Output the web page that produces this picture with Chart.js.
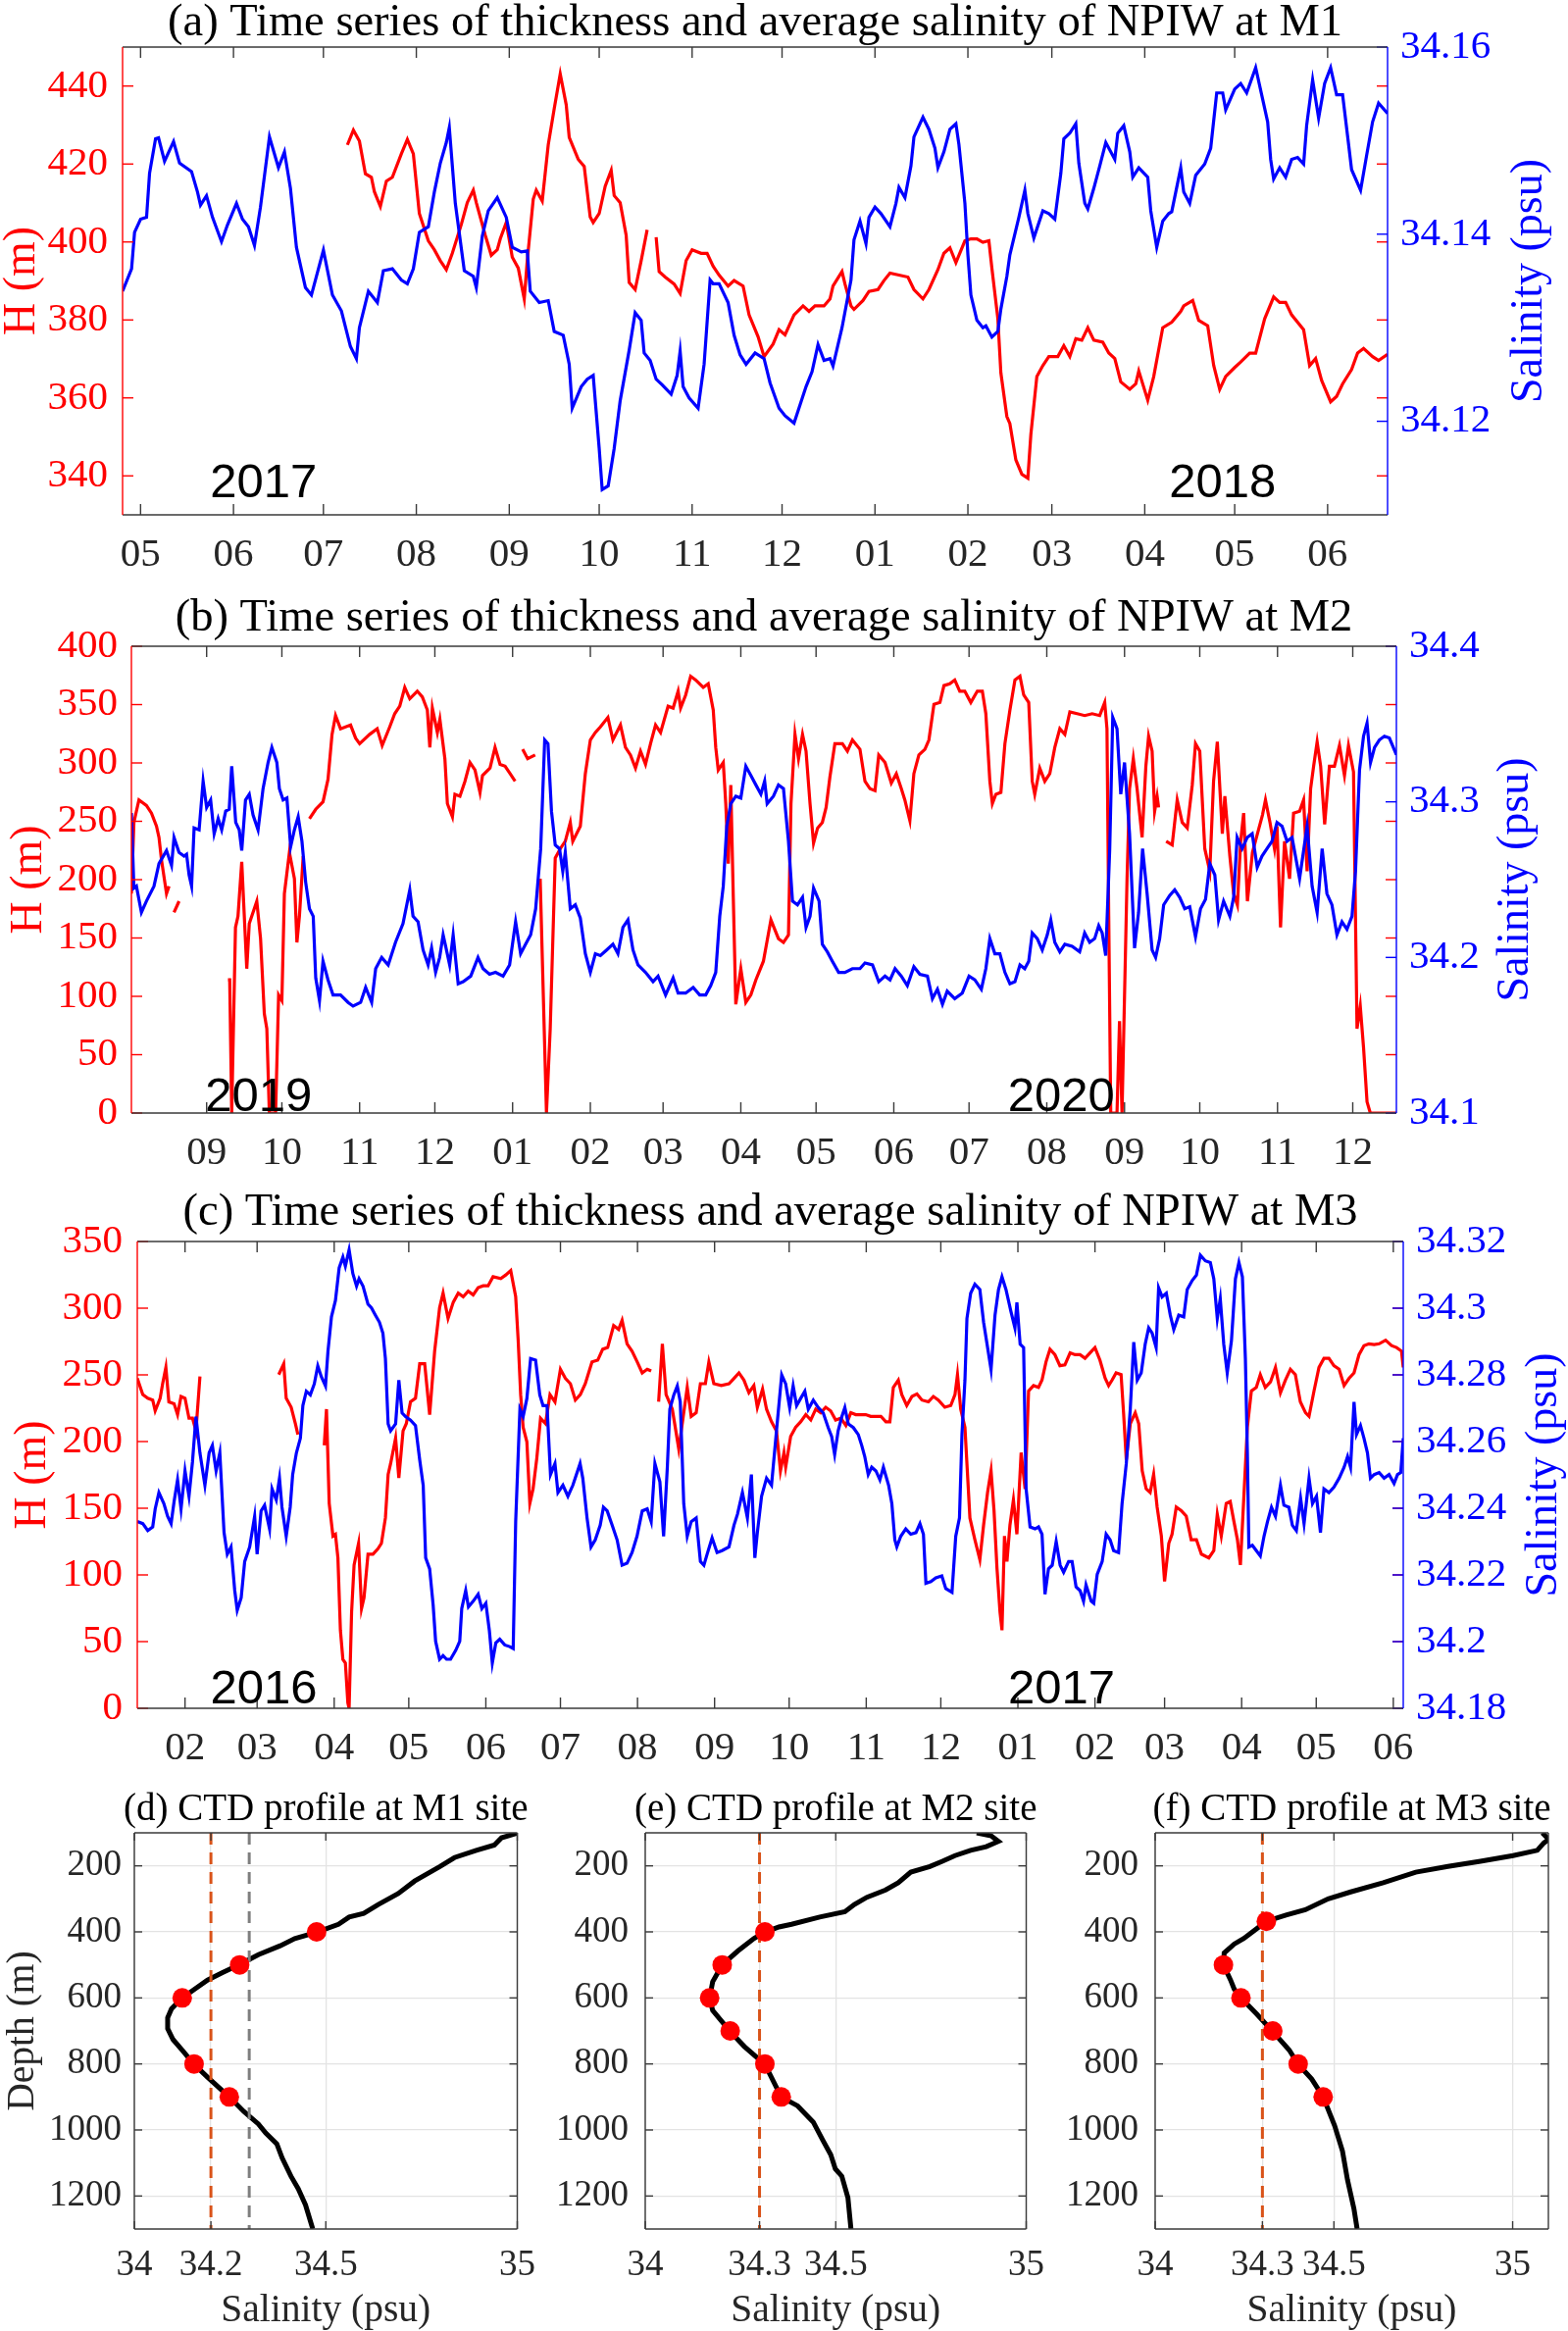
<!DOCTYPE html>
<html>
<head>
<meta charset="utf-8">
<script src="https://cdn.jsdelivr.net/npm/chart.js@4.4.1/dist/chart.umd.min.js"></script>
<style>
  html, body { margin: 0; padding: 0; background: #fff; }
  #wrap { position: relative; width: 1599px; height: 2377px; overflow: hidden; }
  canvas { position: absolute; }
</style>
</head>
<body>
<div id="wrap">
  <canvas id="cA" width="1599" height="590" style="left:0;top:0"></canvas>
  <canvas id="cB" width="1599" height="610" style="left:0;top:590px"></canvas>
  <canvas id="cC" width="1599" height="600" style="left:0;top:1200px"></canvas>
  <canvas id="cD" width="561" height="577" style="left:0;top:1800px"></canvas>
  <canvas id="cE" width="535" height="577" style="left:545px;top:1800px"></canvas>
  <canvas id="cF" width="534" height="577" style="left:1065px;top:1800px"></canvas>
</div>
<script>
const SERIF = "'Liberation Serif', 'Times New Roman', serif";
const SANS = "'Liberation Sans', Arial, sans-serif";
const RED = '#ff0000', BLUE = '#0000ff', AXIS = '#262626';

// ---------- (a) M1, day 0 = 2017-05-01 ----------
const monthDaysA = [0, 31, 61, 92, 123, 153, 184, 214, 245, 276, 304, 335, 365, 396];
const monthLabelsA = ['05','06','07','08','09','10','11','12','01','02','03','04','05','06'];
const hTicksA = [340, 360, 380, 400, 420, 440];
const salTicksA = [34.12, 34.14, 34.16];
const yearsA = ['2017', '2018'];
const yearDaysA = [41, 361];
// [day, salinity]
const salA = [[-6,34.1339],[-3,34.1363],[-2,34.1402],[0,34.1416],[2,34.1418],[3,34.1465],[5,34.1502],[6,34.1503],[8,34.1478],[11,34.1499],[13,34.1476],[17,34.1467],[19,34.1445],[20,34.1431],[22,34.1441],[24,34.1418],[27,34.1392],[29,34.1410],[32,34.1433],[34,34.1416],[36,34.1408],[38,34.1388],[40,34.1429],[43,34.1504],[46,34.1471],[48,34.1488],[50,34.1449],[52,34.1386],[55,34.1343],[57,34.1335],[61,34.1383],[64,34.1335],[67,34.1318],[70,34.1280],[72,34.1267],[73,34.1300],[76,34.1339],[79,34.1327],[81,34.1361],[84,34.1363],[87,34.1351],[89,34.1347],[91,34.1363],[93,34.1402],[96,34.1408],[98,34.1445],[100,34.1476],[102,34.1498],[103,34.1514],[105,34.1433],[108,34.1361],[111,34.1355],[112,34.1343],[114,34.1398],[116,34.1425],[119,34.1439],[122,34.1418],[124,34.1386],[127,34.1381],[129,34.1382],[130,34.1339],[133,34.1327],[136,34.1329],[138,34.1296],[141,34.1292],[143,34.1261],[144,34.1214],[147,34.1237],[149,34.1245],[151,34.1249],[153,34.1171],[154,34.1127],[156,34.1131],[158,34.1171],[160,34.1222],[163,34.1276],[165,34.1316],[167,34.1308],[168,34.1273],[170,34.1265],[172,34.1245],[174,34.1239],[177,34.1229],[179,34.1249],[180,34.1275],[181,34.1237],[183,34.1225],[186,34.1214],[188,34.1261],[190,34.1351],[191,34.1347],[193,34.1347],[196,34.1327],[198,34.1292],[200,34.1271],[202,34.1261],[205,34.1273],[208,34.1267],[210,34.1241],[213,34.1214],[215,34.1206],[218,34.1198],[222,34.1237],[224,34.1253],[226,34.1282],[228,34.1265],[230,34.1267],[231,34.1259],[234,34.1300],[237,34.1351],[238,34.1394],[240,34.1414],[242,34.1390],[243,34.1418],[245,34.1429],[247,34.1422],[250,34.1408],[252,34.1433],[253,34.1450],[255,34.1439],[257,34.1473],[258,34.1504],[261,34.1525],[263,34.1512],[265,34.1492],[266,34.1471],[268,34.1488],[270,34.1512],[272,34.1518],[273,34.1496],[275,34.1433],[276,34.1378],[277,34.1335],[279,34.1308],[281,34.1300],[282,34.1302],[284,34.1290],[286,34.1296],[287,34.1320],[289,34.1355],[290,34.1378],[293,34.1418],[295,34.1447],[296,34.1422],[298,34.1396],[301,34.1425],[303,34.1422],[305,34.1416],[307,34.1465],[308,34.1502],[310,34.1508],[312,34.1518],[313,34.1476],[315,34.1433],[316,34.1427],[318,34.1449],[320,34.1473],[322,34.1498],[325,34.1480],[326,34.1508],[328,34.1516],[330,34.1488],[331,34.1461],[333,34.1471],[336,34.1461],[337,34.1425],[339,34.1386],[341,34.1414],[343,34.1422],[344,34.1424],[347,34.1471],[348,34.1445],[350,34.1433],[352,34.1463],[355,34.1475],[357,34.1492],[359,34.1551],[361,34.1551],[362,34.1533],[365,34.1555],[367,34.1561],[369,34.1551],[372,34.1578],[374,34.1549],[376,34.1520],[377,34.1480],[378,34.1459],[380,34.1471],[382,34.1461],[384,34.1480],[386,34.1482],[388,34.1475],[389,34.1516],[391,34.1565],[393,34.1524],[395,34.1561],[397,34.1578],[399,34.1549],[401,34.1549],[403,34.1496],[404,34.1469],[407,34.1447],[409,34.1484],[411,34.1520],[413,34.1540],[416,34.1529]];
// [day, thickness m]
const hA = [[69,424.9],[71,428.7],[73,425.9],[75,417.5],[77,416.6],[78,412.9],[80,409.1],[82,415.6],[84,416.6],[87,422.6],[89,426.3],[91,422.6],[93,407.3],[96,400.3],[98,398.0],[100,395.2],[102,392.9],[104,397.1],[107,404.5],[109,410.1],[111,413.3],[112,410.1],[115,401.7],[117,396.6],[119,398.0],[120,400.8],[122,405.0],[124,396.1],[126,393.3],[128,385.4],[129,395.2],[131,411.0],[132,413.3],[134,410.5],[136,424.9],[138,434.2],[140,443.1],[142,435.2],[143,426.8],[146,421.2],[148,419.4],[150,406.4],[151,405.0],[153,407.3],[155,414.3],[157,418.4],[158,411.9],[160,410.1],[162,401.7],[163,389.6],[165,387.8],[167,395.2],[169,403.1],[170.5,null],[172,401.2],[173,392.4],[175,391.0],[178,389.2],[180,386.8],[182,395.2],[184,398.0],[187,397.1],[189,397.1],[191,393.8],[193,391.5],[196,388.7],[198,390.1],[201,388.7],[203,381.3],[206,375.7],[208,370.6],[211,373.8],[213,377.5],[215,376.2],[218,381.3],[221,383.6],[223,382.2],[225,383.6],[228,383.6],[230,385.4],[231,388.7],[234,392.4],[235,389.2],[237,383.6],[238,382.7],[241,385.0],[243,387.3],[246,387.8],[248,390.1],[250,392.0],[253,391.5],[256,391.0],[258,387.8],[261,385.4],[263,387.8],[266,392.9],[268,397.1],[270,398.5],[272,394.7],[275,400.3],[277,400.8],[279,400.8],[281,399.9],[283,400.3],[284,393.3],[286,380.3],[287,366.4],[289,355.2],[290,353.4],[292,344.1],[294,340.4],[296,339.4],[297,350.6],[299,365.5],[301,368.3],[303,370.6],[306,370.6],[308,373.4],[310,370.6],[312,375.2],[314,374.8],[316,378.0],[318,374.8],[321,374.3],[323,371.5],[325,370.1],[327,364.1],[330,362.2],[332,363.6],[333,366.9],[336,359.4],[338,365.5],[341,378.0],[344,379.4],[347,382.2],[348,383.6],[351,385.0],[353,379.9],[356,378.5],[358,368.3],[360,362.2],[362,365.5],[365,367.8],[367,369.2],[370,371.5],[372,371.5],[375,380.3],[378,385.9],[380,384.5],[382,384.5],[384,381.3],[388,377.5],[390,368.3],[392,370.1],[394,364.5],[397,359.0],[399,360.4],[401,363.6],[404,367.3],[406,371.5],[408,372.7],[411,370.6],[413,369.6],[416,371.2]];

// ---------- (b) M2, day 0 = 2019-09-01 ----------
const monthDaysB = [0, 30, 61, 91, 122, 153, 182, 213, 243, 274, 304, 335, 366, 396, 427, 457];
const monthLabelsB = ['09','10','11','12','01','02','03','04','05','06','07','08','09','10','11','12'];
const hTicksB = [0, 50, 100, 150, 200, 250, 300, 350, 400];
const salTicksB = [34.1, 34.2, 34.3, 34.4];
const yearsB = ['2019', '2020'];
const yearDaysB = [20.7, 340.8];
const salB = [[-30,34.2928],[-29,34.2446],[-28,34.2458],[-26,34.2289],[-24,34.2362],[-21,34.2458],[-19,34.2603],[-16,34.2687],[-14,34.2591],[-13,34.2771],[-11,34.2675],[-9,34.2651],[-8,34.2663],[-7,34.2530],[-6,34.2458],[-5,34.2832],[-3,34.2820],[-1.4,34.3133],[0,34.2964],[1.6,34.3012],[3,34.2795],[4.6,34.2892],[6,34.2820],[7.6,34.2940],[9,34.2952],[10,34.3229],[11.6,34.2868],[13,34.2820],[14,34.2687],[15.5,34.3012],[17,34.3049],[18.5,34.2916],[20.5,34.2820],[22.5,34.3085],[24.5,34.3253],[26,34.3350],[28,34.3253],[29,34.3085],[30.5,34.3012],[32,34.3024],[33.5,34.2711],[35,34.2820],[36.5,34.2904],[38,34.2747],[39.5,34.2482],[41,34.2313],[42.5,34.2265],[43.5,34.1868],[45,34.1723],[46.4,34.1976],[48.4,34.1856],[50.4,34.1759],[53.4,34.1759],[56.4,34.1711],[58.4,34.1687],[61.4,34.1711],[63.4,34.1807],[65.8,34.1711],[67.4,34.1928],[69.8,34.2000],[72.4,34.1952],[75.3,34.2097],[78.3,34.2217],[81,34.2434],[82.3,34.2265],[84.3,34.2229],[86.3,34.2048],[88.3,34.1952],[89.7,34.2060],[91.3,34.1904],[92.9,34.2000],[94.3,34.2145],[95.3,34.2072],[96.9,34.1952],[98.3,34.2145],[100.3,34.1831],[102.3,34.1844],[105.3,34.1880],[108.2,34.2000],[110.2,34.1928],[112.8,34.1892],[115.2,34.1904],[118.2,34.1880],[120.8,34.1952],[123.2,34.2229],[125.2,34.2024],[127.2,34.2085],[129.2,34.2145],[131.2,34.2313],[133.2,34.2699],[134.8,34.3398],[136.1,34.3374],[137.5,34.2940],[139,34.2723],[140.7,34.2699],[142,34.2554],[143,34.2675],[145,34.2313],[147,34.2338],[149,34.2253],[151,34.2024],[153,34.1904],[155,34.2024],[157,34.2012],[159.5,34.2048],[162,34.2085],[164,34.2024],[166,34.2193],[168,34.2241],[170,34.2048],[172,34.1952],[175,34.1904],[178,34.1844],[180,34.1880],[183,34.1759],[186,34.1868],[188,34.1771],[191,34.1771],[194,34.1807],[196.6,34.1759],[199,34.1759],[201,34.1819],[203,34.1904],[204.6,34.2265],[206,34.2458],[207.4,34.2844],[209,34.2988],[211,34.3036],[213,34.3024],[215,34.3229],[217,34.3169],[219,34.3109],[221,34.3049],[222.5,34.3133],[223.5,34.2988],[226,34.3036],[228,34.3109],[230,34.3085],[232,34.2747],[233.6,34.2362],[235.6,34.2338],[237.6,34.2386],[239,34.2193],[240.6,34.2265],[242,34.2446],[244.2,34.2362],[245.5,34.2085],[247.5,34.2036],[249.5,34.1976],[252,34.1904],[254.5,34.1904],[257.5,34.1928],[260.5,34.1928],[262.5,34.1964],[265.5,34.1952],[268,34.1844],[270.5,34.1880],[272.5,34.1856],[274.5,34.1928],[277,34.1880],[279.4,34.1819],[282,34.1940],[284.4,34.1892],[287.4,34.1880],[289.4,34.1735],[291.4,34.1795],[293.4,34.1699],[295.3,34.1783],[298.3,34.1735],[301.3,34.1771],[304,34.1880],[306.3,34.1856],[308.9,34.1795],[310.7,34.1928],[312.3,34.2121],[314.3,34.2024],[316.3,34.2024],[318.3,34.1904],[320.3,34.1831],[322.3,34.1844],[324.3,34.1952],[326.2,34.1928],[327.8,34.1976],[329.2,34.2157],[331.2,34.2121],[333.2,34.2048],[335.2,34.2145],[336.6,34.2241],[338.2,34.2097],[340.2,34.2036],[342.2,34.2085],[345.1,34.2072],[348.1,34.2036],[350.1,34.2157],[352.1,34.2097],[354.1,34.2121],[355.7,34.2205],[357.1,34.2157],[358.5,34.2012],[360.1,34.2699],[361.3,34.3543],[363,34.3470],[364.5,34.3049],[366,34.3253],[368,34.2795],[370,34.2060],[371.6,34.2289],[373.2,34.2699],[375,34.2410],[377,34.2048],[378.4,34.2000],[380,34.2121],[381.6,34.2338],[384,34.2398],[386,34.2434],[388,34.2386],[390,34.2313],[392,34.2326],[394.3,34.2133],[396.3,34.2313],[398.3,34.2374],[400,34.2603],[402,34.2530],[403.5,34.2241],[405.5,34.2362],[408,34.2265],[409.5,34.2386],[410.9,34.2771],[412.9,34.2699],[414.9,34.2771],[416.9,34.2795],[418.9,34.2579],[420.8,34.2651],[422.8,34.2699],[424.8,34.2747],[426.8,34.2868],[428.8,34.2844],[430.8,34.2747],[432.8,34.2771],[435.8,34.2506],[438.8,34.2844],[440.8,34.2458],[442.8,34.2289],[444.8,34.2699],[446.7,34.2410],[448.7,34.2338],[450.7,34.2145],[452.7,34.2229],[454.7,34.2181],[456.7,34.2265],[458.1,34.2554],[459.7,34.3205],[461.3,34.3422],[462.7,34.3506],[464.1,34.3253],[465.7,34.3350],[467.6,34.3398],[469.6,34.3422],[471.6,34.3410],[474.4,34.3302]];
const hB = [[-30,188.0],[-29,249.0],[-27,268.3],[-24,263.5],[-22,257.0],[-20,245.8],[-19,236.2],[-18,216.9],[-16,188.0],[-15,194.4],[-14,null],[-13,171.9],[-11,181.5],[-10,null],[8.5,114.1],[9.2,114.1],[10,0],[11.5,159.0],[12.5,168.7],[14,215.3],[16,123.7],[17,162.3],[20,181.5],[21.5,149.4],[23,85.1],[24,72.3],[25,0],[27.5,0],[28.7,101.2],[30,96.4],[31,188.0],[33,223.3],[35,200.8],[36,146.2],[37,168.7],[38.5,220.1],[40,null],[41,252.2],[43.5,260.3],[46.4,266.7],[48.4,286.0],[50,324.5],[51.4,340.6],[53.4,329.3],[57.4,332.5],[59.4,321.3],[61,316.5],[65,324.5],[68,329.3],[70,314.9],[73,330.9],[75,342.2],[77,348.6],[79,364.7],[81,355.0],[84,361.5],[86,356.6],[88,345.4],[89,313.3],[90,347.0],[92,326.1],[93,337.4],[95,303.6],[96,265.1],[98,253.8],[99,273.1],[101,271.5],[103,284.3],[105,300.4],[107,294.0],[109,274.7],[110,289.2],[113,295.6],[115,313.3],[117,298.8],[119,297.2],[121,290.8],[123,284.3],[124.5,null],[126,311.7],[128,303.6],[131,306.8],[132,null],[133,200.8],[135.5,0],[137,72.3],[139,218.5],[141,226.5],[143,232.9],[145,249.0],[146,232.9],[149,245.8],[151,290.8],[153,319.7],[155,326.1],[157,330.9],[160,339.0],[162,319.7],[165,332.5],[167,313.3],[169,306.8],[171,295.6],[173,310.1],[175,298.8],[177,316.5],[179,332.5],[181,326.1],[184,348.6],[186,347.0],[188,361.5],[189,347.0],[191,358.2],[193,374.3],[195,371.1],[198,364.7],[200,367.9],[202,345.4],[203,313.3],[204,294.0],[206,300.4],[207,265.1],[208,213.7],[209,281.1],[210,184.7],[211,93.2],[213,123.7],[215,94.8],[217,101.2],[219,114.1],[222,130.1],[225,165.5],[228,149.4],[230,146.2],[232,152.6],[233,265.1],[234.6,324.5],[236,303.6],[237.6,324.5],[239,310.1],[240.6,265.1],[242,231.3],[243.6,244.2],[245.5,249.0],[247,261.9],[248.5,287.6],[250.5,316.5],[253.5,316.5],[255.5,310.1],[257.5,319.7],[260.5,311.7],[262.5,284.3],[264.5,277.9],[266.5,276.3],[268,306.8],[270.5,300.4],[273,282.7],[275,290.8],[277,277.9],[278.4,268.3],[280.4,250.6],[282,290.8],[284,306.8],[286.4,311.7],[288,319.7],[290,350.2],[292.4,351.8],[294,366.3],[296.3,367.9],[298.3,371.1],[300.3,361.5],[302.3,361.5],[304.7,351.8],[307.3,361.5],[309.3,361.5],[310.7,342.2],[312.3,284.3],[313.3,265.1],[314.7,273.1],[316.7,274.7],[318.3,316.5],[320.3,345.4],[322.3,371.1],[324.3,374.3],[325.8,358.2],[327.8,351.8],[329.2,284.3],[330.2,273.1],[332.2,295.6],[334.2,284.3],[336.2,290.8],[338.2,313.3],[340.2,329.3],[342.2,324.5],[344.2,343.8],[347.1,342.2],[350.1,340.6],[353.1,342.2],[356.1,340.6],[358.1,351.8],[359,329.3],[359.7,168.7],[360.5,0],[363,0],[364,78.7],[365,0],[367,200.8],[368,277.9],[369.5,303.6],[371,277.9],[373,236.2],[374.5,297.2],[375.6,322.9],[377,310.1],[378,258.6],[379,271.5],[379.6,261.9],[381,null],[382.6,232.9],[385,229.7],[387,268.3],[389,249.0],[391,244.2],[393,281.1],[394.3,316.5],[396,310.1],[398,226.5],[400,207.2],[401.5,284.3],[403,318.1],[405,239.4],[406,271.5],[408,220.1],[409.5,188.0],[411,178.3],[412.3,232.9],[413.5,257.0],[415,181.5],[417,223.3],[419,239.4],[421,255.4],[422.2,268.3],[424,249.0],[425.8,226.5],[426.8,245.8],[428.2,159.0],[429.8,232.9],[431.8,200.8],[433.4,257.0],[435.8,258.6],[437.4,268.3],[438.8,207.2],[440.2,277.9],[441.4,297.2],[442.8,318.1],[444.2,297.2],[445.8,247.4],[447.7,297.2],[449.7,297.2],[451.7,314.9],[453.7,289.2],[455.3,314.9],[457.3,292.4],[458.7,72.3],[460,91.6],[461.3,56.2],[462.7,9.6],[464,0],[474.4,0]];

// ---------- (c) M3, day 0 = 2016-02-01 ----------
const monthDaysC = [0, 29, 60, 90, 121, 151, 182, 213, 243, 274, 304, 335, 366, 394, 425, 455, 486];
const monthLabelsC = ['02','03','04','05','06','07','08','09','10','11','12','01','02','03','04','05','06'];
const hTicksC = [0, 50, 100, 150, 200, 250, 300, 350];
const salTicksC = [34.18, 34.2, 34.22, 34.24, 34.26, 34.28, 34.3, 34.32];
const yearsC = ['2016', '2017'];
const yearDaysC = [31.7, 352.5];
const salC = [[-19.2,34.2360],[-17,34.2354],[-15,34.2333],[-13,34.2344],[-12,34.2398],[-10.5,34.2447],[-8.5,34.2414],[-7,34.2376],[-5.6,34.2354],[-4.4,34.2420],[-3,34.2485],[-1.6,34.2398],[0,34.2512],[1.6,34.2436],[3,34.2539],[4.4,34.2675],[6,34.2566],[8,34.2469],[9.7,34.2566],[11,34.2588],[12.5,34.2512],[14,34.2566],[15.7,34.2327],[17,34.2262],[18.5,34.2284],[20,34.2153],[21,34.2094],[22.6,34.2132],[24,34.2240],[26,34.2284],[28,34.2376],[29,34.2262],[30.6,34.2392],[32,34.2409],[34,34.2338],[35,34.2458],[36.7,34.2425],[38,34.2490],[39,34.2403],[40.7,34.2316],[42.3,34.2403],[43.3,34.2501],[44.8,34.2566],[46.4,34.2610],[47.4,34.2708],[48.8,34.2751],[50.4,34.2740],[52,34.2773],[53.4,34.2827],[54.8,34.2795],[56.5,34.2767],[57.5,34.2871],[58.9,34.2974],[60.5,34.3023],[62,34.3121],[63.5,34.3153],[64.5,34.3126],[66,34.3175],[67.5,34.3104],[69,34.3066],[70,34.3088],[71.6,34.3066],[73.6,34.3012],[75,34.3001],[76.6,34.2979],[78.2,34.2958],[79.6,34.2925],[80.6,34.2849],[81.7,34.2653],[82.7,34.2632],[84.7,34.2653],[86,34.2784],[87.3,34.2686],[88.7,34.2675],[90.7,34.2664],[92.7,34.2648],[94.4,34.2545],[95.8,34.2469],[96.8,34.2251],[98.4,34.2218],[99.8,34.2110],[100.8,34.2001],[102.4,34.1947],[103.8,34.1958],[105.2,34.1947],[106.8,34.1947],[108.9,34.1974],[110.5,34.2001],[111.3,34.2099],[112.9,34.2153],[114,34.2104],[115.9,34.2121],[117.9,34.2142],[119.4,34.2099],[121,34.2115],[122.4,34.2034],[123.6,34.1936],[125,34.1996],[126.6,34.2007],[128.6,34.1990],[130.6,34.1985],[132,34.1979],[133,34.2360],[134.7,34.2697],[136,34.2675],[137.5,34.2729],[139,34.2849],[141,34.2844],[142.7,34.2740],[144,34.2708],[145.6,34.2708],[147,34.2501],[148.8,34.2534],[150,34.2447],[152,34.2469],[154,34.2436],[156,34.2469],[158.9,34.2534],[160,34.2490],[161.7,34.2371],[163.3,34.2284],[165,34.2305],[167,34.2349],[168.3,34.2403],[169.8,34.2392],[171.8,34.2349],[173.8,34.2305],[175.8,34.2229],[177.8,34.2235],[179.8,34.2267],[181.8,34.2316],[183.9,34.2392],[185.9,34.2398],[187.5,34.2360],[189,34.2534],[191,34.2479],[192.5,34.2316],[194,34.2523],[195,34.2697],[196.6,34.2740],[198,34.2767],[199.2,34.2719],[200.6,34.2414],[202,34.2316],[203.6,34.2360],[205.6,34.2371],[207.3,34.2240],[208.7,34.2229],[210,34.2262],[212,34.2311],[214,34.2267],[216,34.2273],[218.8,34.2284],[220.8,34.2349],[222.2,34.2382],[224.2,34.2447],[226.2,34.2371],[227.8,34.2501],[229.2,34.2251],[230.2,34.2327],[231.9,34.2436],[233.9,34.2490],[235.9,34.2469],[237.9,34.2632],[240,34.2800],[241.6,34.2773],[243.2,34.2702],[244.6,34.2767],[246,34.2708],[247.6,34.2729],[249.3,34.2751],[250.7,34.2697],[252.7,34.2724],[254.7,34.2702],[256.7,34.2686],[258.7,34.2642],[260.1,34.2615],[261.3,34.2561],[262.7,34.2632],[264.2,34.2675],[265.4,34.2702],[266.8,34.2653],[268.8,34.2642],[270.8,34.2621],[272.2,34.2588],[273.4,34.2555],[274.8,34.2501],[276.2,34.2523],[277.9,34.2512],[279.5,34.2485],[280.9,34.2523],[283,34.2469],[284.3,34.2414],[285.5,34.2305],[286.3,34.2284],[287.9,34.2316],[289.9,34.2338],[291.9,34.2322],[294,34.2327],[295.6,34.2354],[297,34.2322],[298,34.2175],[300,34.2180],[302,34.2191],[304.4,34.2197],[306,34.2159],[308.5,34.2148],[310,34.2316],[311.5,34.2371],[312.5,34.2621],[313.7,34.2784],[314.5,34.2969],[316,34.3045],[317.7,34.3072],[319.7,34.3056],[321.2,34.2958],[322.6,34.2892],[324.2,34.2816],[325.8,34.2979],[327.2,34.3056],[328.6,34.3094],[330.2,34.3056],[332.2,34.2990],[333.8,34.2941],[334.6,34.3017],[335.9,34.2892],[337.3,34.2882],[338.3,34.2458],[339.9,34.2344],[341.9,34.2338],[343.3,34.2344],[344.7,34.2322],[345.9,34.2142],[347.3,34.2218],[348.8,34.2229],[350.4,34.2300],[352,34.2229],[353.4,34.2208],[355.4,34.2240],[356.8,34.2240],[358.4,34.2164],[360,34.2153],[361.4,34.2121],[362.4,34.2170],[364.5,34.2121],[365.5,34.2115],[366.9,34.2202],[368.9,34.2240],[370.5,34.2322],[372.1,34.2305],[373.5,34.2273],[375.5,34.2267],[376.9,34.2414],[378.6,34.2534],[380.2,34.2697],[381.6,34.2898],[383,34.2784],[384.6,34.2806],[386.2,34.2892],[387.6,34.2941],[389,34.2925],[390.6,34.2882],[391.6,34.3061],[393,34.3034],[394.7,34.3045],[396.3,34.2979],[397.7,34.2936],[399.7,34.2979],[401.7,34.2974],[403.1,34.3056],[405.1,34.3083],[406.8,34.3099],[408.4,34.3159],[410.4,34.3142],[412.4,34.3137],[413.8,34.3088],[415.2,34.2969],[416.4,34.3028],[417.8,34.2892],[419.2,34.2806],[420.9,34.2903],[422.5,34.3088],[423.9,34.3137],[425.3,34.3094],[426.5,34.2849],[427.3,34.2566],[427.9,34.2284],[429.3,34.2289],[430.9,34.2273],[432.5,34.2257],[434,34.2316],[435.4,34.2360],[437,34.2403],[438.6,34.2376],[440.6,34.2469],[442,34.2409],[444,34.2403],[445.4,34.2349],[447,34.2333],[448.7,34.2430],[450.1,34.2354],[452.1,34.2490],[453.5,34.2414],[455.1,34.2436],[456.7,34.2327],[458.1,34.2458],[460.1,34.2447],[462.1,34.2463],[464.2,34.2490],[466.2,34.2523],[467.6,34.2555],[468.8,34.2523],[470.2,34.2719],[471.2,34.2621],[472.8,34.2648],[474.2,34.2610],[475.6,34.2566],[476.8,34.2490],[478.3,34.2501],[480.3,34.2507],[482.3,34.2490],[484.3,34.2501],[486.3,34.2474],[487.7,34.2501],[489,34.2507],[490,34.2610]];
const hC = [[-19.2,247.4],[-17,235.2],[-15,232.5],[-13,231.1],[-12,223.0],[-10,232.5],[-9,243.4],[-7.7,255.6],[-6.5,229.8],[-4.4,228.4],[-3,220.2],[-1.6,233.8],[0,232.5],[1.6,217.5],[3,217.5],[4.4,208.0],[6,248.8],[7,null],[37.7,250.2],[39.7,258.3],[40.7,232.5],[42.7,225.7],[44.4,213.4],[45.4,205.3],[50,null],[56,197.1],[56.9,224.3],[58,153.6],[59.5,129.2],[60.5,130.5],[61.5,112.8],[62.5,58.5],[63.5,36.7],[64.5,34.0],[65.5,4.1],[66,0],[67,72.1],[68,107.4],[69.8,123.7],[71,74.8],[72,82.9],[73.6,115.6],[75.6,115.6],[77.6,119.6],[79,123.7],[80.6,142.7],[81.7,175.4],[82.7,183.5],[84.7,202.6],[86,172.7],[87.7,208.0],[89,213.4],[90.7,229.8],[92.7,232.5],[94.4,258.3],[96.4,258.3],[98.4,220.2],[100.4,267.8],[102.4,300.4],[103.8,311.3],[105.8,292.3],[107.9,304.5],[109.9,311.3],[111.9,308.6],[113.9,312.7],[115.9,310.0],[117.9,315.4],[119.9,316.8],[121.9,316.8],[123.9,323.6],[127,322.2],[129,324.9],[131,328.2],[133,308.6],[134,276.0],[135,235.2],[136,210.7],[137.5,199.8],[138.7,153.6],[140,164.5],[141.5,187.6],[143,217.5],[145,213.4],[146.8,235.2],[148.8,229.8],[151,254.2],[153,247.4],[155,243.4],[157,231.1],[159,235.2],[161,243.4],[163.7,259.7],[166,261.0],[168,269.2],[170,270.5],[172.4,286.9],[174.4,284.1],[175.8,290.9],[177.8,273.3],[179.8,267.8],[181.9,259.7],[183.9,251.5],[185.9,254.2],[187.5,252.9],[189,null],[190.5,229.8],[192,273.3],[193.5,235.2],[196,224.3],[198.6,194.4],[200.6,221.6],[202,240.6],[203.6,218.9],[205.6,221.6],[207.3,243.4],[209.3,243.4],[210.7,259.7],[212.7,243.4],[215.7,242.0],[218.8,243.4],[220.8,247.4],[222.8,251.5],[224.8,246.1],[226.8,236.6],[228.8,242.0],[230.2,225.7],[232.3,239.3],[233.9,224.3],[235.9,214.8],[237.9,208.0],[239.5,178.1],[240.9,191.7],[241.6,180.8],[243.6,203.9],[245.6,210.7],[247.6,214.8],[249.7,220.2],[251.7,216.2],[253.7,224.3],[255.7,221.6],[257.7,225.7],[259.7,223.0],[261.7,216.2],[263.8,217.5],[265.8,212.1],[267.8,221.6],[269.8,220.2],[271.8,220.2],[273.8,220.2],[275.8,218.9],[277.9,218.9],[279.9,218.9],[281.9,214.8],[283.5,214.8],[284.9,240.6],[286.9,246.1],[288.3,235.2],[290.3,227.0],[292.4,233.8],[294.4,235.7],[296.4,231.1],[299,229.8],[301,233.8],[303,231.1],[305.6,225.7],[308,227.0],[309.7,235.2],[310.7,250.2],[312,224.3],[313.7,210.7],[315.7,142.7],[317.7,126.4],[319.7,111.5],[321.2,137.3],[322.8,161.8],[324.2,178.1],[325.4,148.2],[326.6,104.7],[327.8,72.1],[328.6,58.5],[329.6,129.2],[330.6,110.1],[331.8,137.3],[333.2,156.3],[334.6,130.5],[336.3,191.7],[337.9,164.5],[339.3,237.9],[341.3,242.0],[343.3,240.6],[344.7,246.1],[346.3,259.7],[347.9,269.2],[349.9,265.1],[351.9,256.9],[353.9,257.5],[356,266.5],[358,265.1],[360,265.1],[362,262.4],[364,266.5],[366,270.5],[368,261.0],[370.1,247.4],[371.5,242.0],[372.9,246.1],[374.5,251.5],[376.5,250.2],[377.5,221.6],[378.6,186.3],[380.2,213.4],[382.2,221.6],[383.6,213.4],[385,178.1],[386.6,164.5],[388.2,161.8],[389.6,175.4],[391,150.9],[392.7,129.2],[394,95.2],[395.7,123.7],[397,130.5],[398.7,150.9],[400.7,148.2],[402.7,144.1],[404.7,126.4],[406.8,126.4],[408.8,115.6],[411.8,112.8],[413.8,118.3],[415.2,145.5],[416.8,129.2],[418.8,153.6],[420.4,155.0],[421.9,140.0],[423.3,126.4],[424.5,107.4],[425.9,159.1],[427.3,210.7],[428.9,237.9],[430.9,240.6],[432.5,250.2],[434.5,240.6],[436.6,244.7],[438.6,255.6],[440.6,236.6],[442.6,246.1],[444.6,254.2],[446.6,250.2],[448.6,229.8],[450.7,221.6],[452.1,218.9],[454.1,237.9],[456.1,255.6],[458.1,262.4],[460.1,262.4],[462.1,256.9],[464.2,254.2],[466.2,242.0],[468.2,247.4],[470.2,251.5],[472.2,265.1],[474.2,271.9],[476.2,273.3],[478.3,272.7],[480.3,273.3],[482.9,276.0],[485.3,271.9],[487.3,270.5],[489.3,267.8],[490,255.6]];

// ---------- (d)-(f) CTD profiles ----------
const depthTicks = [200, 400, 600, 800, 1000, 1200];
const salTicksD = [34, 34.2, 34.5, 35];
const salTicksEF = [34, 34.3, 34.5, 35];
const dSal = [35.0, 34.959, 34.94, 34.893, 34.836, 34.798, 34.732, 34.689, 34.637, 34.599, 34.561, 34.533, 34.476, 34.419, 34.381, 34.324, 34.275, 34.229, 34.191, 34.158, 34.125, 34.097, 34.087, 34.087, 34.101, 34.125, 34.156, 34.191, 34.248, 34.286, 34.324, 34.343, 34.372, 34.386, 34.409, 34.428, 34.447, 34.466];
const dDepth = [101, 115, 137, 153, 175, 202, 246, 284, 317, 344, 355, 377, 401, 420, 442, 469, 499, 524, 546, 573, 600, 633, 660, 693, 726, 758, 801, 840, 900, 944, 982, 1009, 1042, 1085, 1140, 1178, 1227, 1300];
const dDotSal = [34.476, 34.275, 34.125, 34.156, 34.248];
const dDotDepth = [400, 500, 600, 800, 900];
const dRefs = [34.2, 34.3];
const eSal = [34.87, 34.908, 34.927, 34.895, 34.854, 34.813, 34.78, 34.747, 34.697, 34.664, 34.631, 34.582, 34.549, 34.524, 34.458, 34.384, 34.351, 34.314, 34.285, 34.243, 34.202, 34.177, 34.169, 34.177, 34.223, 34.26, 34.314, 34.357, 34.4, 34.441, 34.466, 34.487, 34.499, 34.516, 34.532, 34.54];
const eDepth = [100, 109, 126, 142, 153, 169, 186, 202, 219, 251, 273, 295, 317, 339, 355, 377, 385, 401, 420, 458, 500, 551, 600, 638, 702, 747, 801, 900, 927, 976, 1031, 1075, 1118, 1140, 1205, 1300];
const eDotSal = [34.314, 34.202, 34.169, 34.223, 34.314, 34.357];
const eDotDepth = [400, 500, 600, 700, 800, 900];
const eRefs = [34.3];
const fSal = [35.083, 35.101, 35.087, 35.069, 35.001, 34.91, 34.819, 34.729, 34.638, 34.547, 34.484, 34.42, 34.366, 34.311, 34.275, 34.248, 34.221, 34.193, 34.191, 34.211, 34.221, 34.24, 34.284, 34.329, 34.375, 34.4, 34.438, 34.47, 34.502, 34.524, 34.538, 34.556, 34.565];
const fDepth = [100, 120, 131, 153, 169, 186, 202, 219, 251, 279, 300, 333, 349, 368, 398, 420, 437, 464, 500, 546, 573, 600, 649, 702, 758, 801, 846, 900, 987, 1064, 1151, 1238, 1300];
const fDotSal = [34.311, 34.191, 34.24, 34.329, 34.4, 34.47];
const fDotDepth = [368, 500, 600, 700, 800, 900];
const fRefs = [34.3];

const rows = r => r.map(([x, y]) => ({x, y}));
const zipXY = (xs, ys) => xs.map((x, i) => ({x, y: ys[i]}));
const serif = size => ({family: SERIF, size, lineHeight: 1.2});

// box, inward ticks, panel title, right-axis title and year stamps
const frame = {
  id: 'frame',
  afterDraw(chart, args, o) {
    const {ctx, chartArea: a, scales} = chart;
    const seg = (x1, y1, x2, y2, c) => {
      ctx.strokeStyle = c;
      ctx.beginPath(); ctx.moveTo(x1, y1); ctx.lineTo(x2, y2); ctx.stroke();
    };
    ctx.save();
    ctx.lineWidth = o.lineWidth;
    const t = o.tick;
    scales.x.ticks.forEach(k => {
      const px = scales.x.getPixelForValue(k.value);
      seg(px, a.bottom, px, a.bottom - t, o.boxColor);
      seg(px, a.top, px, a.top + t, o.boxColor);
    });
    scales.y.ticks.forEach(k => {
      const py = scales.y.getPixelForValue(k.value);
      seg(a.left, py, a.left + t, py, o.leftColor);
      seg(a.right, py, a.right - t, py, o.leftColor);
    });
    if (scales.y1) {
      scales.y1.ticks.forEach(k => {
        const py = scales.y1.getPixelForValue(k.value);
        seg(a.right, py, a.right - t, py, o.rightColor);
      });
    }
    seg(a.left, a.top, a.right, a.top, o.boxColor);
    seg(a.left, a.bottom, a.right, a.bottom, o.boxColor);
    seg(a.left, a.top, a.left, a.bottom, o.leftColor);
    seg(a.right, a.top, a.right, a.bottom, o.rightColor);

    ctx.fillStyle = '#000';
    ctx.textAlign = 'center';
    ctx.textBaseline = 'middle';
    ctx.font = `${o.titleSize}px ${SERIF}`;
    ctx.fillText(o.title, (a.left + a.right) / 2, o.titleY);

    if (o.rightTitle) {
      ctx.save();
      ctx.translate(o.rightTitleX, (a.top + a.bottom) / 2);
      ctx.rotate(-Math.PI / 2);
      ctx.fillStyle = o.rightColor;
      ctx.font = `46px ${SERIF}`;
      ctx.fillText(o.rightTitle, 0, 0);
      ctx.restore();
    }
    if (o.years) {
      ctx.fillStyle = '#000';
      ctx.textBaseline = 'alphabetic';
      ctx.font = `49px ${SANS}`;
      o.years.forEach((s, i) => ctx.fillText(s, scales.x.getPixelForValue(o.yearDays[i]), a.bottom - o.yearBase));
    }
    ctx.restore();
  }
};

function seriesChart(id, s) {
  return new Chart(document.getElementById(id), {
    type: 'line',
    data: {
      datasets: [
        {data: rows(s.sal), yAxisID: 'y1', borderColor: BLUE, borderWidth: 3.2, pointRadius: 0, tension: 0},
        {data: rows(s.h), yAxisID: 'y', borderColor: RED, borderWidth: 3.2, pointRadius: 0, tension: 0},
      ],
    },
    options: {
      responsive: false, animation: false, devicePixelRatio: 1, events: [],
      layout: {padding: {top: s.top, left: 0, right: 0, bottom: 0}},
      plugins: {
        legend: {display: false}, tooltip: {enabled: false},
        frame: {
          title: s.title, titleY: s.titleY, titleSize: 46.5, tick: 11, lineWidth: 1.4,
          boxColor: '#3a3a3a', leftColor: RED, rightColor: BLUE,
          rightTitle: 'Salinity (psu)', rightTitleX: s.rightTitleX,
          years: s.years, yearDays: s.yearDays, yearBase: s.yearBase,
        },
      },
      scales: {
        x: {
          type: 'linear', min: s.xMin, max: s.xMax,
          afterBuildTicks: sc => { sc.ticks = s.months.map(v => ({value: v})); },
          afterFit: sc => { sc.height = s.xH; },
          ticks: {autoSkip: false, maxRotation: 0, minRotation: 0, padding: 17, color: AXIS, font: serif(41),
            callback: (v, i) => s.monthLabels[i]},
          grid: {display: false, drawTicks: false}, border: {display: false},
        },
        y: {
          type: 'linear', position: 'left', min: s.hMin, max: s.hMax,
          afterBuildTicks: sc => { sc.ticks = s.hTicks.map(v => ({value: v})); },
          afterFit: sc => { sc.width = s.yW; },
          ticks: {autoSkip: false, padding: s.yPad, color: RED, font: serif(41), callback: v => String(v)},
          title: {display: true, text: 'H (m)', color: RED, font: {family: SERIF, size: 46, lineHeight: 1}, padding: {top: s.yTitlePad, bottom: 0}},
          grid: {display: false, drawTicks: false}, border: {display: false},
        },
        y1: {
          type: 'linear', position: 'right', min: s.sMin, max: s.sMax,
          afterBuildTicks: sc => { sc.ticks = s.salTicks.map(v => ({value: v})); },
          afterFit: sc => { sc.width = s.y1W; },
          ticks: {autoSkip: false, padding: 13, color: BLUE, font: serif(41), callback: v => String(v)},
          grid: {display: false, drawTicks: false}, border: {display: false},
        },
      },
    },
    plugins: [frame],
  });
}

function profileChart(id, p) {
  return new Chart(document.getElementById(id), {
    type: 'line',
    data: {
      datasets: [
        {data: zipXY(p.dotSal, p.dotDepth), showLine: false, pointRadius: 10, pointBackgroundColor: RED, pointBorderWidth: 0, borderColor: RED},
        ...p.refs.map((v, i) => ({
          data: [{x: v, y: 100}, {x: v, y: 1300}],
          borderColor: i === 0 ? '#d95319' : '#7f7f7f', borderWidth: 3, borderDash: [12, 8], pointRadius: 0,
        })),
        {data: zipXY(p.sal, p.depth), borderColor: '#000', borderWidth: 5, pointRadius: 0, tension: 0},
      ],
    },
    options: {
      responsive: false, animation: false, devicePixelRatio: 1, events: [],
      layout: {padding: {top: 69, left: 0, right: 20, bottom: 0}},
      plugins: {
        legend: {display: false}, tooltip: {enabled: false},
        frame: {title: p.title, titleY: 46, titleSize: 39, tick: 8, lineWidth: 1.4,
          boxColor: '#3a3a3a', leftColor: '#3a3a3a', rightColor: '#3a3a3a'},
      },
      scales: {
        x: {
          type: 'linear', min: 34, max: p.xMax,
          afterBuildTicks: sc => { sc.ticks = p.salTicks.map(v => ({value: v})); },
          afterFit: sc => { sc.height = 104; },
          ticks: {autoSkip: false, maxRotation: 0, padding: 15, color: AXIS, font: serif(37), callback: v => String(v)},
          title: {display: true, text: 'Salinity (psu)', color: AXIS, font: {family: SERIF, size: 39.5, lineHeight: 1}, padding: {top: 0, bottom: 1}},
          grid: {color: '#e3e3e3', lineWidth: 1.3, drawTicks: false}, border: {display: false},
        },
        y: {
          type: 'linear', reverse: true, min: 100, max: 1300,
          afterBuildTicks: sc => { sc.ticks = depthTicks.map(v => ({value: v})); },
          afterFit: sc => { sc.width = p.yW; },
          ticks: {autoSkip: false, padding: p.yPad, color: AXIS, font: serif(37), callback: v => String(v)},
          title: {display: p.yTitle, text: 'Depth (m)', color: AXIS, font: {family: SERIF, size: 39.5, lineHeight: 1}, padding: {top: 4, bottom: 0}},
          grid: {color: '#e3e3e3', lineWidth: 1.3, drawTicks: false}, border: {display: false},
        },
      },
    },
    plugins: [frame],
  });
}

seriesChart('cA', {
  title: '(a) Time series of thickness and average salinity of NPIW at M1', titleY: 24,
  sal: salA, h: hA, months: monthDaysA, monthLabels: monthLabelsA, xMin: -6, xMax: 416,
  hMin: 330, hMax: 450, hTicks: hTicksA, sMin: 34.11, sMax: 34.16, salTicks: salTicksA,
  top: 48, xH: 65, yW: 125, y1W: 184, yPad: 15, yTitlePad: 0, rightTitleX: 1560,
  years: yearsA, yearDays: yearDaysA, yearBase: 18,
});
seriesChart('cB', {
  title: '(b) Time series of thickness and average salinity of NPIW at M2', titleY: 41,
  sal: salB, h: hB, months: monthDaysB, monthLabels: monthLabelsB, xMin: -30, xMax: 474.4,
  hMin: 0, hMax: 400, hTicks: hTicksB, sMin: 34.1, sMax: 34.4, salTicks: salTicksB,
  top: 69, xH: 65, yW: 134, y1W: 175, yPad: 14, yTitlePad: 7, rightTitleX: 1546,
  years: yearsB, yearDays: yearDaysB, yearBase: 2,
});
seriesChart('cC', {
  title: '(c) Time series of thickness and average salinity of NPIW at M3', titleY: 37,
  sal: salC, h: hC, months: monthDaysC, monthLabels: monthLabelsC, xMin: -19.2, xMax: 490,
  hMin: 0, hMax: 350, hTicks: hTicksC, sMin: 34.18, sMax: 34.32, salTicks: salTicksC,
  top: 66, xH: 58, yW: 140, y1W: 168, yPad: 15, yTitlePad: 11, rightTitleX: 1575,
  years: yearsC, yearDays: yearDaysC, yearBase: 5,
});
profileChart('cD', {title: '(d) CTD profile at M1 site', sal: dSal, depth: dDepth, dotSal: dDotSal, dotDepth: dDotDepth,
  refs: dRefs, salTicks: salTicksD, xMax: 35, yW: 137, yPad: 13, yTitle: true});
profileChart('cE', {title: '(e) CTD profile at M2 site', sal: eSal, depth: eDepth, dotSal: eDotSal, dotDepth: eDotDepth,
  refs: eRefs, salTicks: salTicksEF, xMax: 35, yW: 113, yPad: 17, yTitle: false});
profileChart('cF', {title: '(f) CTD profile at M3 site', sal: fSal, depth: fDepth, dotSal: fDotSal, dotDepth: fDotDepth,
  refs: fRefs, salTicks: salTicksEF, xMax: 35.1, yW: 113, yPad: 17, yTitle: false});
</script>
</body>
</html>
